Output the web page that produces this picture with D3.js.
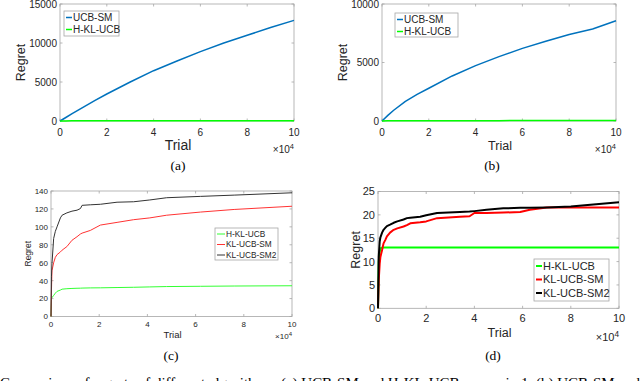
<!DOCTYPE html>
<html lang="en">
<head>
    <meta charset="UTF-8">
    <style>
        body { margin: 0; background: #fff; }
        svg { display: block; }
        .tick-label { fill: #262626; font-family: "Liberation Sans", Arial, sans-serif; }
        .cap { font-family: "Liberation Serif", "Times New Roman", serif; fill: #000; }
    </style>
    <script src="https://d3js.org/d3.v7.min.js"></script>
</head>
<body>
    <div id="chart"></div>
    <script>
        // trial (x 10^4)
        var trialsAB = [0, 0.25, 0.5, 1, 1.5, 2, 3, 4, 5, 6, 7, 8, 9, 10];
        var ucbSmA = [0, 450, 900, 1780, 2640, 3460, 5000, 6450, 7700, 8890, 10000, 10990, 11980, 12900];
        var hklA = [0, 15, 20, 25, 27, 28, 30, 31, 32, 33, 33, 34, 34, 34];
        var ucbSmB = [0, 480, 920, 1680, 2270, 2800, 3850, 4730, 5500, 6210, 6820, 7400, 7860, 8570];
        var hklB = [0, 15, 20, 25, 27, 28, 30, 31, 32, 33, 33, 34, 34, 34];

        var trialsC = [0, 0.02, 0.04, 0.11, 0.18, 0.25, 0.39, 0.46, 0.66, 0.87, 1.08, 1.22, 1.29, 1.63, 2.05, 2.74, 3.43, 4.1, 4.8, 6.2, 7.6, 10];
        var hklC = [0, 20, 21, 23.5, 26, 28, 29.5, 30.5, 31, 31.3, 31.5, 31.6, 31.7, 31.9, 32, 32.3, 32.6, 33, 33.4, 33.7, 34, 34.3];
        var klSmC = [0, 30, 51, 60, 66, 69, 72, 74, 78, 85, 89, 92, 93, 96, 102, 105, 108, 110, 113, 116.5, 119.4, 123];
        var klSm2C = [0, 45, 59, 87, 95, 100, 110, 113, 115.6, 117.5, 118.6, 120.4, 124, 124.6, 125.2, 127.5, 128, 130, 132.5, 134, 135.4, 138];

        var trialsD = [0, 0.03, 0.07, 0.1, 0.17, 0.23, 0.3, 0.37, 0.5, 0.65, 0.8, 1.06, 1.2, 1.34, 1.75, 2, 2.45, 3.4, 3.8, 4, 4.5, 5.2, 5.9, 6.3, 7, 8, 8.7, 10];
        var hklD = [0, 10, 12, 12.8, 13, 13, 13, 13, 13, 13, 13, 13, 13, 13, 13, 13, 13, 13, 13, 13, 13, 13, 13, 13, 13, 13, 13, 13];
        var klSmD = [0, 6, 9.5, 11, 12.5, 13.9, 14.6, 15.4, 16.2, 16.8, 17.1, 17.5, 17.8, 18.2, 18.4, 18.6, 19.3, 19.6, 19.7, 20.4, 20.4, 20.5, 20.6, 21.1, 21.6, 21.6, 21.6, 21.6];
        var klSm2D = [0, 11, 14.3, 15.2, 16.2, 16.8, 17.2, 17.6, 17.9, 18.3, 18.6, 19, 19.3, 19.4, 19.6, 19.9, 20.4, 20.6, 20.7, 20.8, 21.1, 21.4, 21.5, 21.5, 21.6, 21.8, 22.1, 22.7];

        var xTicks = [0, 2, 4, 6, 8, 10];

        var W = 640, H = 381;
        var svg = d3.select("#chart").append("svg")
            .attr("width", W).attr("height", H);

        function drawPanel(p) {
            var x = d3.scaleLinear().domain([0, 10]).range([p.left, p.right]);
            var y = d3.scaleLinear().domain([0, p.yMax]).range([p.bottom, p.top]);
            var g = svg.append("g");
            var tl = 2.5;

            // box
            g.append("rect")
                .attr("x", p.left).attr("y", p.top)
                .attr("width", p.right - p.left).attr("height", p.bottom - p.top)
                .attr("fill", "none").attr("stroke", "#a6a6a6").attr("stroke-width", 0.8);

            // x ticks
            xTicks.forEach(function (t) {
                g.append("line").attr("x1", x(t)).attr("x2", x(t))
                    .attr("y1", p.bottom).attr("y2", p.bottom - tl)
                    .attr("stroke", "#a6a6a6").attr("stroke-width", 0.8);
                g.append("line").attr("x1", x(t)).attr("x2", x(t))
                    .attr("y1", p.top).attr("y2", p.top + tl)
                    .attr("stroke", "#a6a6a6").attr("stroke-width", 0.8);
                g.append("text").attr("class", "tick-label")
                    .attr("x", x(t)).attr("y", p.xLabY)
                    .attr("text-anchor", "middle").attr("font-size", p.fs)
                    .text(t);
            });

            // y ticks
            p.yTicks.forEach(function (t) {
                g.append("line").attr("x1", p.left).attr("x2", p.left + tl)
                    .attr("y1", y(t)).attr("y2", y(t))
                    .attr("stroke", "#a6a6a6").attr("stroke-width", 0.8);
                g.append("line").attr("x1", p.right).attr("x2", p.right - tl)
                    .attr("y1", y(t)).attr("y2", y(t))
                    .attr("stroke", "#a6a6a6").attr("stroke-width", 0.8);
                g.append("text").attr("class", "tick-label")
                    .attr("x", p.left - 3).attr("y", y(t) + p.fs * 0.36)
                    .attr("text-anchor", "end").attr("font-size", p.fs)
                    .text(t);
            });

            // series
            var line = d3.line()
                .x(function (d) { return x(d[0]); })
                .y(function (d) { return y(d[1]); });
            p.series.forEach(function (s) {
                var pts = s.xs.map(function (v, i) { return [v, s.ys[i]]; });
                g.append("path").datum(pts)
                    .attr("d", line)
                    .attr("fill", "none")
                    .attr("stroke", s.color)
                    .attr("stroke-width", p.lw)
                    .attr("stroke-linejoin", "round");
            });

            // axis labels
            g.append("text").attr("class", "tick-label")
                .attr("x", (p.left + p.right) / 2 + 1).attr("y", p.trialY)
                .attr("text-anchor", "middle").attr("font-size", p.trialFs)
                .text("Trial");
            g.append("text").attr("class", "tick-label")
                .attr("transform", "translate(" + p.regretX + "," + ((p.top + p.bottom) / 2) + ")rotate(-90)")
                .attr("text-anchor", "middle").attr("font-size", p.regretFs)
                .text("Regret");

            // x10^4
            var e = g.append("text").attr("class", "tick-label")
                .attr("x", p.right).attr("y", p.expY)
                .attr("text-anchor", "end").attr("font-size", p.fs);
            e.append("tspan").text("\u00d710");
            e.append("tspan").attr("dy", -p.fs * 0.4).attr("font-size", p.fs * 0.75).text("4");

            // caption
            svg.append("text").attr("class", "cap")
                .attr("x", p.capX).attr("y", p.capY)
                .attr("text-anchor", "middle").attr("font-size", 13.5)
                .text(p.cap);

            // legend
            var L = p.legend;
            g.append("rect")
                .attr("x", L.x).attr("y", L.y).attr("width", L.w).attr("height", L.h)
                .attr("fill", "#fff").attr("stroke", "#a6a6a6").attr("stroke-width", 0.8);
            p.series.forEach(function (s, i) {
                var ly = L.y + L.pad + i * L.step;
                g.append("line")
                    .attr("x1", L.x + 2).attr("x2", L.x + 2 + L.sw)
                    .attr("y1", ly).attr("y2", ly)
                    .attr("stroke", s.color).attr("stroke-width", p.lw);
                g.append("text").attr("class", "tick-label")
                    .attr("x", L.x + 3 + L.sw).attr("y", ly + L.fs * 0.36)
                    .attr("font-size", L.fs)
                    .text(s.name);
            });
        }

        drawPanel({
            left: 60, right: 294, top: 4, bottom: 121, yMax: 15000,
            yTicks: [0, 5000, 10000, 15000], fs: 10, trialFs: 14, regretFs: 12.5, lw: 1.5,
            xLabY: 135.5, trialY: 150, regretX: 25, expY: 153, capX: 178, capY: 170, cap: "(a)",
            legend: { x: 64, y: 11, w: 55, h: 25, pad: 6.5, step: 12, sw: 6, fs: 10 },
            series: [
                { name: "UCB-SM", color: "#0072bd", xs: trialsAB, ys: ucbSmA },
                { name: "H-KL-UCB", color: "#00ff00", xs: trialsAB, ys: hklA }
            ]
        });

        drawPanel({
            left: 382, right: 616, top: 4, bottom: 121, yMax: 10000,
            yTicks: [0, 5000, 10000], fs: 10, trialFs: 12.5, regretFs: 12.5, lw: 1.5,
            xLabY: 135.5, trialY: 150, regretX: 347, expY: 153, capX: 492, capY: 170, cap: "(b)",
            legend: { x: 395, y: 13, w: 63, h: 24, pad: 6.5, step: 12, sw: 6, fs: 10 },
            series: [
                { name: "UCB-SM", color: "#0072bd", xs: trialsAB, ys: ucbSmB },
                { name: "H-KL-UCB", color: "#00ff00", xs: trialsAB, ys: hklB }
            ]
        });

        drawPanel({
            left: 51, right: 292, top: 191, bottom: 316.5, yMax: 140,
            yTicks: [0, 20, 40, 60, 80, 100, 120, 140], fs: 8, trialFs: 9.5, regretFs: 8.5, lw: 1,
            xLabY: 327, trialY: 338, regretX: 31, expY: 339, capX: 171, capY: 360, cap: "(c)",
            legend: { x: 215, y: 228, w: 63, h: 32, pad: 6, step: 10.5, sw: 8, fs: 8.3 },
            series: [
                { name: "H-KL-UCB", color: "#33ff33", xs: trialsC, ys: hklC },
                { name: "KL-UCB-SM", color: "#ff3333", xs: trialsC, ys: klSmC },
                { name: "KL-UCB-SM2", color: "#333333", xs: trialsC, ys: klSm2C }
            ]
        });

        drawPanel({
            left: 378, right: 619, top: 191.5, bottom: 308.3, yMax: 25,
            yTicks: [0, 5, 10, 15, 20, 25], fs: 11, trialFs: 12.5, regretFs: 12.5, lw: 2,
            xLabY: 321.5, trialY: 337, regretX: 360, expY: 341, capX: 493, capY: 360, cap: "(d)",
            legend: { x: 534, y: 259, w: 75, h: 42, pad: 7, step: 13.5, sw: 6, fs: 11 },
            series: [
                { name: "H-KL-UCB", color: "#00ff00", xs: trialsD, ys: hklD },
                { name: "KL-UCB-SM", color: "#ff0000", xs: trialsD, ys: klSmD },
                { name: "KL-UCB-SM2", color: "#000000", xs: trialsD, ys: klSm2D }
            ]
        });

        // figure caption, cut off by the bottom edge
        svg.append("text").attr("class", "cap")
            .attr("x", 0).attr("y", 388).attr("font-size", 14)
            .attr("textLength", 640).attr("lengthAdjust", "spacingAndGlyphs")
            .text("Comparison of regrets of different algorithms: (a) UCB-SM and H-KL-UCB: scenario 1, (b) UCB-SM and");
    </script>
</body>
</html>
